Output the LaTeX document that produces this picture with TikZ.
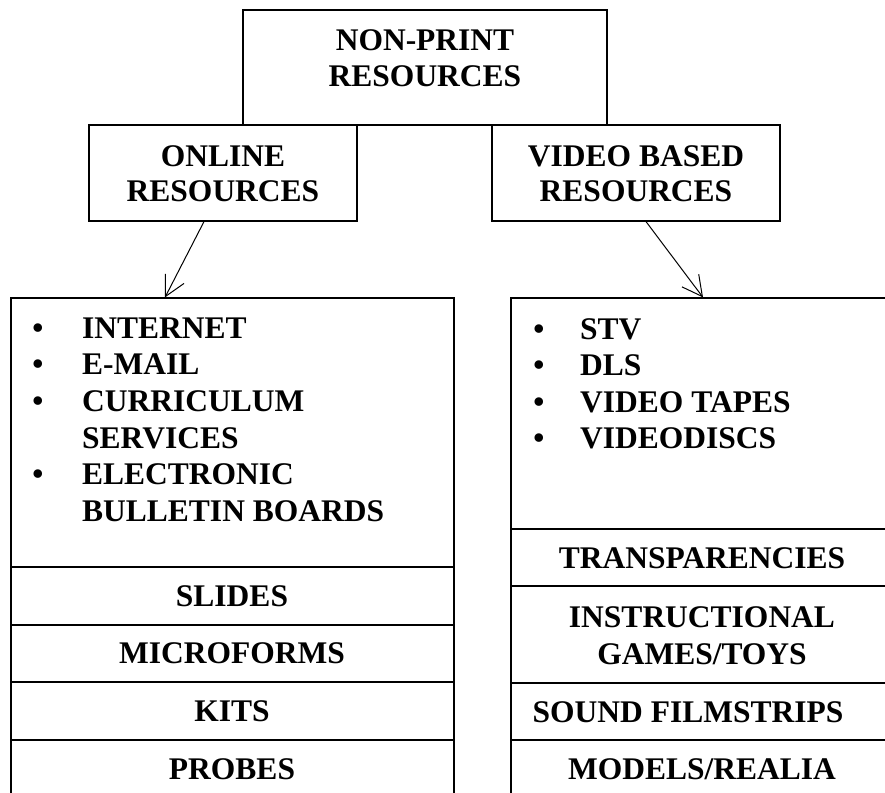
\documentclass[tikz,border=0pt]{standalone}
\usepackage{fontspec}
\setmainfont{Liberation Serif}
\usetikzlibrary{arrows.meta}
\begin{document}
\begin{tikzpicture}[x=1pt,y=-1pt,
  cell/.style={draw=black,line width=1.2pt,rectangle,inner sep=0pt,minimum width=#1},
  txt/.style={font=\fontsize{31.5}{36}\selectfont\bfseries,inner sep=0pt,anchor=base},
  lt/.style={font=\fontsize{31.5}{36}\selectfont\bfseries,inner sep=0pt,anchor=base west},
  bul/.style={font=\fontsize{31.5}{36}\selectfont\bfseries,inner sep=0pt,anchor=base},
  arr/.style={line width=1pt,-{Straight Barb[length=20pt,width=21pt,line width=1pt]}}]
\useasboundingbox (0,0) rectangle (885,792);
\fill[white] (0,0) rectangle (885,792);
\clip (0,0) rectangle (885,792);
% top boxes
\node[cell=364pt,minimum height=115pt] (top) at (425,67.5) {};
\node[cell=268pt,minimum height=96pt] (online) at (223,173) {};
\node[cell=288pt,minimum height=96pt] (video) at (636,173) {};
\node[txt] (t1) at (425,50) {NON-PRINT};
\node[txt] (t2) at (425,86) {RESOURCES};
\node[txt] (o1) at (223,166) {ONLINE};
\node[txt] (o2) at (223,201) {RESOURCES};
\node[txt] (v1) at (636,166) {VIDEO BASED};
\node[txt] (v2) at (636,201) {RESOURCES};
% left column cells
\node[cell=443pt,minimum height=269pt] (llist) at (232.5,432.5) {};
\node[cell=443pt,minimum height=58pt] (lslides) at (232.5,596) {};
\node[cell=443pt,minimum height=57pt] (lmicro) at (232.5,653.5) {};
\node[cell=443pt,minimum height=58pt] (lkits) at (232.5,711) {};
\node[cell=443pt,minimum height=70pt] (lprobes) at (232.5,775) {};
% right column cells
\node[cell=382pt,minimum height=231pt] (rlist) at (702,413.5) {};
\node[cell=382pt,minimum height=57pt] (rtrans) at (702,557.5) {};
\node[cell=382pt,minimum height=97pt] (rgames) at (702,634.5) {};
\node[cell=382pt,minimum height=57pt] (rsound) at (702,711.5) {};
\node[cell=382pt,minimum height=70pt] (rmodels) at (702,775) {};
% left list
\node[bul] (lb1) at (38,338) {•};
\node[lt] (li1) at (82,338) {INTERNET};
\node[bul] (lb2) at (38,374.7) {•};
\node[lt] (li2) at (82,374.7) {E-MAIL};
\node[bul] (lb3) at (38,411.4) {•};
\node[lt] (li3) at (82,411.4) {CURRICULUM};
\node[lt] (li3b) at (82,448.1) {SERVICES};
\node[bul] (lb4) at (38,484.8) {•};
\node[lt] (li4) at (82,484.8) {ELECTRONIC};
\node[lt] (li4b) at (82,521.5) {BULLETIN BOARDS};
% right list
\node[bul] (rb1) at (539,339) {•};
\node[lt] (ri1) at (580,339) {STV};
\node[bul] (rb2) at (539,375.5) {•};
\node[lt] (ri2) at (580,375.5) {DLS};
\node[bul] (rb3) at (539,412) {•};
\node[lt] (ri3) at (580,412) {VIDEO TAPES};
\node[bul] (rb4) at (539,448.5) {•};
\node[lt] (ri4) at (580,448.5) {VIDEODISCS};
% row labels
\node[txt] (s1) at (232,606.5) {SLIDES};
\node[txt] (s2) at (232,663.5) {MICROFORMS};
\node[txt] (s3) at (232,721.5) {KITS};
\node[txt] (s4) at (232,779) {PROBES};
\node[txt] (r1) at (702,568) {TRANSPARENCIES};
\node[txt] (r2) at (702,627) {INSTRUCTIONAL};
\node[txt] (r2b) at (702,664) {GAMES/TOYS};
\node[txt] (r3) at (688,722) {SOUND FILMSTRIPS};
\node[txt] (r4) at (702,779) {MODELS/REALIA};
% arrows
\draw[arr] ([xshift=-19pt]online.south) -- ([xshift=-67.5pt]llist.north);
\draw[arr] ([xshift=10pt]video.south) -- ([xshift=1pt]rlist.north);
\end{tikzpicture}
\end{document}
